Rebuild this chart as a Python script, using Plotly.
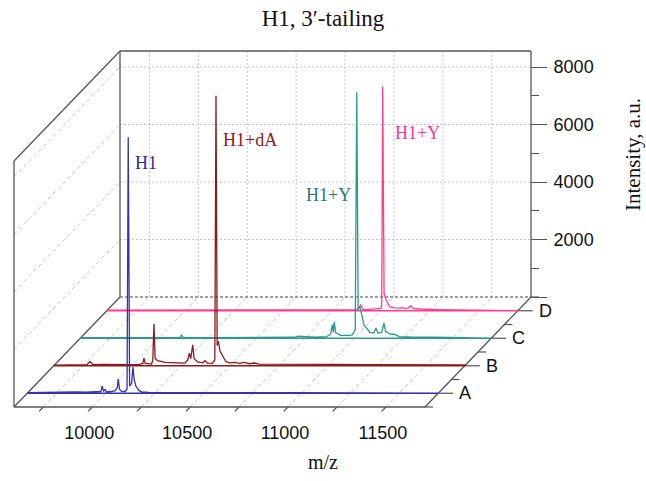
import plotly.graph_objects as go

# ---------------- data ----------------
title_text = "H1, 3\u2032-tailing"
series_names = ["A", "B", "C", "D"]
series_colors = ["#3434a6", "#8b1a1a", "#2a9a90", "#ff3d8b"]
label_colors = ["#2b2b9a", "#8b1a1a", "#1e7c74", "#ff3399"]

mz_A = [9600, 9650, 9700, 9750, 9800, 9850, 9900, 9940, 9976, 9983, 9990, 9997, 10004, 10030, 10050,
        10060, 10065, 10071, 10080, 10100, 10110, 10116, 10123, 10133, 10140, 10146, 10155, 10170,
        10185, 10220, 10300, 10400, 10500, 10650, 10800, 10950, 11100, 11250, 11400, 11550, 11700]
int_A = [20, 30, 40, 55, 45, 50, 40, 50, 60, 245, 60, 140, 50, 60, 90,
         200, 490, 150, 70, 60, 150, 8900, 250, 350, 915, 500, 250, 100,
         50, 30, 25, 20, 25, 20, 20, 25, 20, 30, 20, 25, 20]

mz_B = [9600, 9700, 9770, 9785, 9800, 9850, 9900, 9950, 10000, 10040, 10055, 10061, 10067, 10100,
        10106, 10112, 10118, 10130, 10150, 10170, 10200, 10240, 10270, 10285, 10293, 10300, 10310,
        10317, 10335, 10360, 10373, 10385, 10410, 10423, 10429, 10435, 10441, 10450, 10466, 10480,
        10500, 10525, 10550, 10575, 10600, 10625, 10650, 10750, 10900, 11050, 11200, 11350, 11500, 11700]
int_B = [20, 30, 40, 150, 40, 50, 40, 45, 40, 50, 80, 268, 80, 60,
         200, 1460, 250, 180, 150, 120, 110, 100, 90, 200, 442, 250, 730,
         250, 130, 100, 174, 90, 80, 200, 9390, 700, 845, 500, 278, 140,
         100, 115, 80, 115, 70, 95, 60, 50, 40, 45, 40, 35, 40, 30]

mz_C = [9600, 9800, 10000, 10110, 10118, 10126, 10300, 10500, 10700, 10713, 10800, 10860, 10880,
        10888, 10893, 10898, 10905, 10930, 10950, 10975, 10990, 11005, 11013, 11020, 11029, 11040,
        11050, 11063, 11080, 11100, 11111, 11120, 11140, 11152, 11160, 11180, 11208, 11230, 11260,
        11300, 11400, 11500, 11600, 11700]
int_C = [20, 25, 20, 30, 105, 30, 25, 30, 35, 70, 40, 60, 150,
         475, 200, 568, 200, 100, 90, 100, 120, 300, 8557, 1000, 1100, 700,
         450, 350, 200, 180, 360, 180, 200, 530, 250, 150, 130, 60, 50,
         40, 35, 30, 30, 25]

mz_D = [9600, 9800, 10000, 10200, 10400, 10600, 10800, 10880, 10898, 10910, 11000, 11005, 11010,
        11017, 11027, 11040, 11047, 11070, 11100, 11110, 11120, 11140, 11153, 11165, 11200, 11300,
        11400, 11500, 11600, 11700]
int_D = [20, 25, 20, 25, 20, 25, 25, 30, 200, 30, 80, 200, 7790,
         600, 383, 180, 130, 100, 90, 115, 80, 90, 174, 80, 60, 40,
         35, 30, 30, 25]

peak_labels = ["H1", "H1+dA", "H1+Y", "H1+Y"]
peak_mz = [10116, 10429, 11013, 11010]
peak_label_level = [8000, 7850, 5000, 6200]

x_ticks_major = [10000, 10500, 11000, 11500]
x_tick_text = ["10000", "10500", "11000", "11500"]
x_ticks_all = [9750, 10000, 10250, 10500, 10750, 11000, 11250, 11500]
z_ticks_major = [0, 2000, 4000, 6000, 8000]
z_tick_text = ["", "2000", "4000", "6000", "8000"]
z_ticks_minor = [1000, 3000, 5000, 7000]
z_grid = [2000, 4000, 6000, 8000]

# ---------------- projection (oblique box) ----------------
MZ0, MZ1, ZTOP = 9600, 11700, 8557
W, H = 646, 481
sx = 411 / (MZ1 - MZ0)          # px per m/z unit
sz = 57.5 / 2000                # px per intensity unit
DX = 106 / sx                   # full-depth shift (m/z units)
DY = 110 / sz                   # full-depth shift (intensity units)
depths = [0.125, 0.375, 0.625, 0.875]


def P(mz, z, d):
    return mz + d * DX, z + d * DY


def segs(pairs):
    xs, ys = [], []
    for (a, b) in pairs:
        xa, ya = a
        xb, yb = b
        xs += [xa, xb, None]
        ys += [ya, yb, None]
    return xs, ys


fig = go.Figure()

GRID = "#c6c6c6"
EDGE = "#555555"


def add_lines(pairs, color, width=1, dash="solid"):
    xs, ys = segs(pairs)
    fig.add_trace(go.Scatter(x=xs, y=ys, mode="lines", hoverinfo="skip",
                             line=dict(color=color, width=width, dash=dash)))


# floor grid (diagonals from the m/z ticks)
add_lines([(P(m, 0, 0), P(m, 0, 1)) for m in x_ticks_all], GRID, 1, "4px,3px")
# left wall grid
add_lines([(P(MZ0, z, 0), P(MZ0, z, 1)) for z in z_grid], GRID, 1, "4px,3px")
# back wall grid
add_lines([(P(MZ0, z, 1), P(MZ1, z, 1)) for z in z_grid], GRID, 1, "2px,2px")
add_lines([(P(m, 0, 1), P(m, ZTOP, 1)) for m in x_ticks_all], GRID, 1, "2px,2px")
# hidden back-bottom edge
add_lines([(P(MZ0, 0, 1), P(MZ1, 0, 1))], "#444444", 1, "3px,2px")

# box edges
add_lines([
    (P(MZ0, 0, 1), P(MZ0, ZTOP, 1)),
    (P(MZ0, ZTOP, 1), P(MZ1, ZTOP, 1)),
    (P(MZ0, ZTOP, 0), P(MZ0, ZTOP, 1)),
    (P(MZ0, 0, 0), P(MZ0, ZTOP, 0)),
    (P(MZ0, 0, 0), P(MZ0, 0, 1)),
    (P(MZ0, 0, 0), P(MZ1, 0, 0)),
    (P(MZ1, 0, 0), P(MZ1, 0, 1)),
], EDGE, 1.3)

# slanted m/z ticks
add_lines([(P(m, 0, 0), P(m, 0, -0.04)) for m in x_ticks_all], EDGE, 1.2)

# depth axis ticks
minor_d = [0, 0.25, 0.5, 0.75, 1.0]
pairs = []
for d in minor_d:
    x0, y0 = P(MZ1, 0, d)
    pairs.append(((x0, y0), (x0 + 8 / sx, y0)))
for d in depths:
    x0, y0 = P(MZ1, 0, d)
    pairs.append(((x0, y0), (x0 + 15 / sx, y0)))
add_lines(pairs, EDGE, 1.2)

# spectra (back to front)
spectra = [(mz_A, int_A), (mz_B, int_B), (mz_C, int_C), (mz_D, int_D)]
for i in [3, 2, 1, 0]:
    mzs, ints = spectra[i]
    d = depths[i]
    xs = [m + d * DX for m in mzs] + [MZ1 + d * DX, MZ0 + d * DX]
    ys = [v + d * DY for v in ints] + [d * DY, d * DY]
    fig.add_trace(go.Scatter(x=xs, y=ys, mode="lines", name=series_names[i],
                             line=dict(color=series_colors[i], width=1.3)))

# intensity axis line (back right edge) on the intensity axis
fig.add_trace(go.Scatter(x=[MZ1 + DX, MZ1 + DX], y=[0, ZTOP], yaxis="y2", mode="lines",
                         hoverinfo="skip", line=dict(color=EDGE, width=1.3)))

annotations = []
# depth labels
for i, d in enumerate(depths):
    x0, y0 = P(MZ1, 0, d)
    annotations.append(dict(x=x0 + 15 / sx, y=y0, xref="x", yref="y", text=series_names[i],
                            showarrow=False, xanchor="left", yanchor="middle", xshift=4,
                            font=dict(family="Liberation Sans", size=18, color="#111111")))
# peak labels
for i, d in enumerate(depths):
    x0, y0 = P(peak_mz[i], peak_label_level[i], d)
    right = (i == 2)
    annotations.append(dict(x=x0, y=y0, xref="x", yref="y", text=peak_labels[i], showarrow=False,
                            xanchor="right" if right else "left", yanchor="middle",
                            xshift=-4 if right else (10 if i == 3 else 5),
                            font=dict(family="Liberation Serif", size=18, color=label_colors[i])))
annotations.append(dict(x=0.5, y=1 - 462 / H, xref="paper", yref="paper", text="m/z",
                        showarrow=False, xanchor="center", yanchor="middle",
                        font=dict(family="Liberation Serif", size=20, color="#111111")))
annotations.append(dict(x=633 / W, y=1 - 155 / H, xref="paper", yref="paper",
                        text="Intensity, a.u.", textangle=-90, showarrow=False,
                        xanchor="center", yanchor="middle",
                        font=dict(family="Liberation Serif", size=21, color="#111111")))

yr = [-(H - 407) / sz, 407 / sz]
fig.update_layout(
    width=W, height=H, margin=dict(l=0, r=0, t=0, b=0),
    paper_bgcolor="white", plot_bgcolor="white", showlegend=False,
    title=dict(text=title_text, x=0.5, xanchor="center", y=1 - 18 / H, yanchor="middle",
               yref="container", font=dict(family="Liberation Serif", size=23, color="#111111")),
    xaxis=dict(range=[MZ0 - 14 / sx, MZ0 + (W - 14) / sx], anchor="free",
               position=(H - 407) / H, showgrid=False, zeroline=False, showline=False,
               tickmode="array", tickvals=x_ticks_major, ticktext=x_tick_text, ticks="",
               ticklabelstandoff=13, ticklabelshift=-3,
               tickfont=dict(family="Liberation Sans", size=18, color="#111111")),
    yaxis=dict(range=yr, showgrid=False, zeroline=False, showline=False,
               showticklabels=False, ticks=""),
    yaxis2=dict(range=[yr[0] - DY, yr[1] - DY], overlaying="y", anchor="free",
                position=530 / W, side="right", showgrid=False, zeroline=False,
                showline=False, tickmode="array", tickvals=z_ticks_major, ticktext=z_tick_text,
                ticks="outside", ticklen=16, tickwidth=1.2, tickcolor=EDGE,
                ticklabelstandoff=3,
                minor=dict(tickmode="array", tickvals=z_ticks_minor, ticks="outside",
                           ticklen=8, tickwidth=1.2, tickcolor=EDGE),
                tickfont=dict(family="Liberation Sans", size=18, color="#111111")),
    annotations=annotations,
)

fig.write_html("out.html", config={"displayModeBar": False},
               post_script="document.body.style.margin='0';document.body.style.overflow='hidden';")
